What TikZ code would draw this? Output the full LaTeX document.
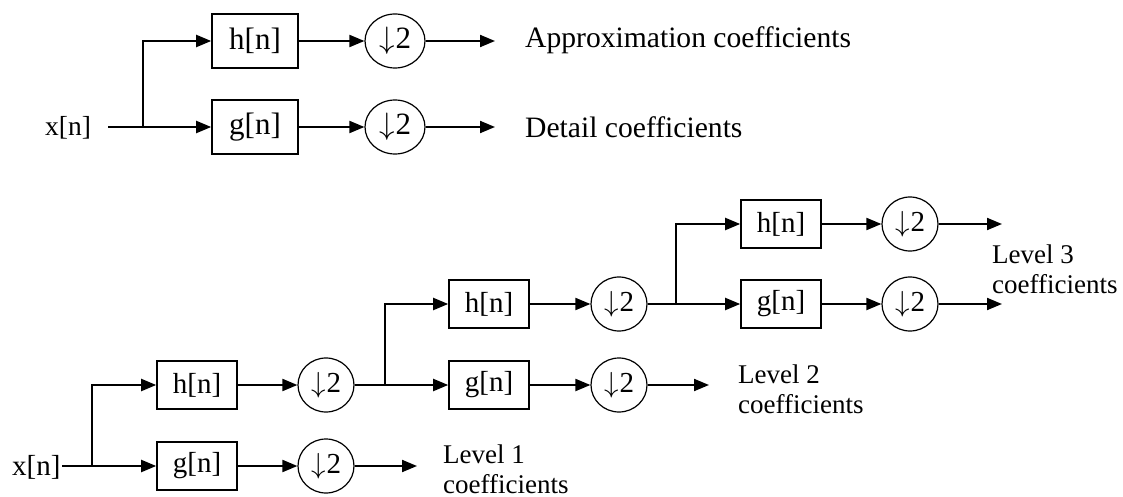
\RequirePackage{fix-cm}
\documentclass[tikz,border=0pt]{standalone}
\usepackage{fontspec}
\setmainfont{Liberation Serif}
\usetikzlibrary{arrows.meta,shapes.geometric}
\newcommand\fsz[1]{\fontsize{#1}{#1}\selectfont}
\newcommand\dsym{$\downarrow$\kern1pt 2}
\tikzset{
  blk/.style={draw, line width=1.6pt, minimum width=80pt, minimum height=48pt, inner sep=0pt, font=\fsz{29}},
  tblk/.style={blk, minimum width=86pt, minimum height=54pt, font=\fsz{31}},
  ds/.style={draw, ellipse, line width=1.2pt, minimum width=56pt, minimum height=54pt, inner sep=0pt, font=\fsz{29}},
  tds/.style={ds, minimum width=60pt, minimum height=54pt, font=\fsz{31}},
  wire/.style={line width=2pt},
  arr/.style={wire, -{Triangle[length=15pt,width=12pt]}},
  lbl/.style={anchor=base west, inner sep=0pt, font=\fsz{29.6}},
  lvl/.style={anchor=base west, inner sep=0pt, font=\fsz{27}},
}
\begin{document}
\begin{tikzpicture}[x=1pt,y=-1pt]
\useasboundingbox (0,0) rectangle (1123,497);
% ---------- top diagram ----------
\node[lvl, font=\fsz{27.5}] (tx) at (45,136) {x[n]};
\coordinate (ts) at (108,127);
\coordinate (tb) at (143,127);
\node[tblk] (th) at (255,41) {h[n]};
\node[tblk] (tg) at (255,127) {g[n]};
\node[tds] (tdh) at (395,41) {\dsym};
\node[tds] (tdg) at (395,127) {\dsym};
\coordinate (toh) at (495,41);
\coordinate (tog) at (495,127);
\draw[wire] (ts) -- (tb);
\draw[arr] (tb) |- (th.west);
\draw[arr] (tb) -- (tg.west);
\draw[arr] (th) -- (tdh);
\draw[arr] (tg) -- (tdg);
\draw[arr] (tdh) -- (toh);
\draw[arr] (tdg) -- (tog);
\node[lbl] (ta) at (525,48) {Approximation coefficients};
\node[lbl] (td) at (525,138) {Detail coefficients};
% ---------- bottom diagram ----------
\node[lvl, font=\fsz{29}] (bx) at (12,475) {x[n]};
\coordinate (bs) at (62,466);
\coordinate (b1) at (92,466);
\node[blk] (h1) at (197,385) {h[n]};
\node[blk] (g1) at (197,466) {g[n]};
\node[ds] (d1h) at (326,385) {\dsym};
\node[ds] (d1g) at (326,466) {\dsym};
\coordinate (o1) at (417,466);
\coordinate (b2) at (385,385);
\node[blk] (h2) at (489,304) {h[n]};
\node[blk] (g2) at (489,385) {g[n]};
\node[ds] (d2h) at (619,304) {\dsym};
\node[ds] (d2g) at (619,385) {\dsym};
\coordinate (o2) at (709,385);
\coordinate (b3) at (676,304);
\node[blk] (h3) at (781,224) {h[n]};
\node[blk] (g3) at (781,304) {g[n]};
\node[ds] (d3h) at (910,224) {\dsym};
\node[ds] (d3g) at (910,304) {\dsym};
\coordinate (o3h) at (1002,224);
\coordinate (o3g) at (1002,304);
% level 1
\draw[wire] (bs) -- (b1);
\draw[arr] (b1) |- (h1.west);
\draw[arr] (b1) -- (g1.west);
\draw[arr] (h1) -- (d1h);
\draw[arr] (g1) -- (d1g);
\draw[arr] (d1g) -- (o1);
% level 2
\draw[wire] (d1h) -- (b2);
\draw[arr] (b2) |- (h2.west);
\draw[arr] (b2) -- (g2.west);
\draw[arr] (h2) -- (d2h);
\draw[arr] (g2) -- (d2g);
\draw[arr] (d2g) -- (o2);
% level 3
\draw[wire] (d2h) -- (b3);
\draw[arr] (b3) |- (h3.west);
\draw[arr] (b3) -- (g3.west);
\draw[arr] (h3) -- (d3h);
\draw[arr] (g3) -- (d3g);
\draw[arr] (d3h) -- (o3h);
\draw[arr] (d3g) -- (o3g);
% labels
\node[lvl] (l1a) at (443,463) {Level 1};
\node[lvl] (l1b) at (443,493) {coefficients};
\node[lvl] (l2a) at (738,383) {Level 2};
\node[lvl] (l2b) at (738,413) {coefficients};
\node[lvl] (l3a) at (992,263) {Level 3};
\node[lvl] (l3b) at (992,293) {coefficients};
\end{tikzpicture}
\end{document}
